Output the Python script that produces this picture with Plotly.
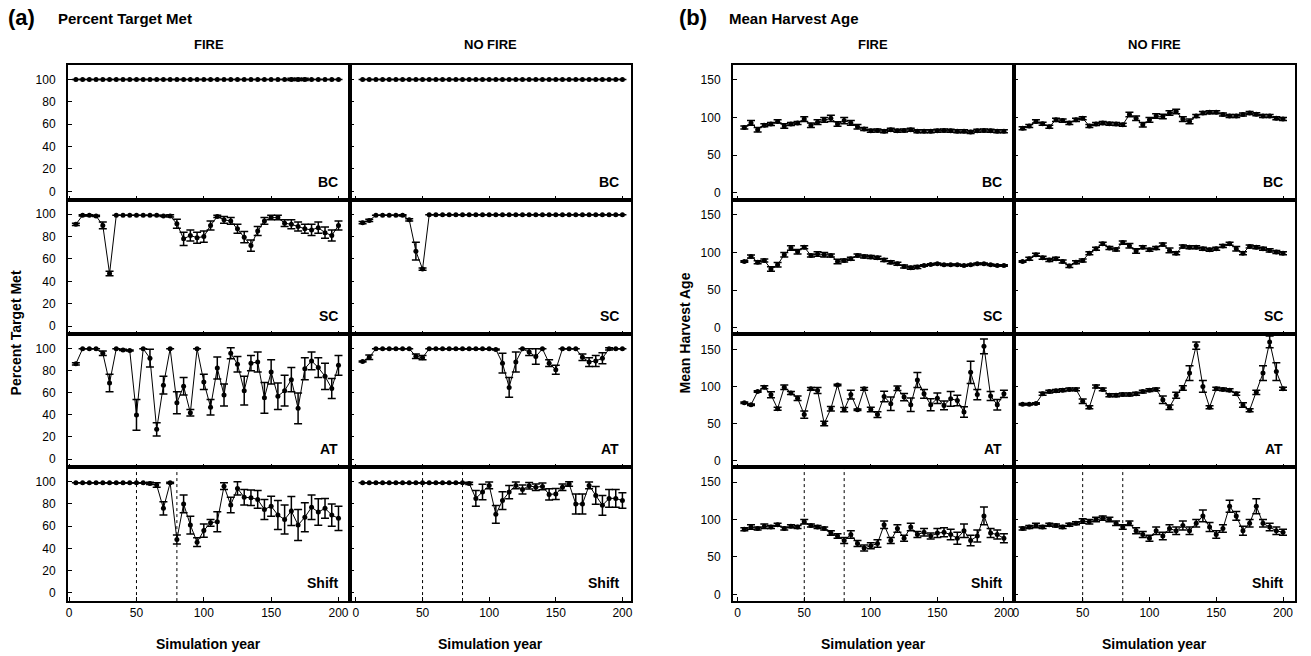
import plotly.graph_objects as go

W, H = 1311, 656
years = list(range(5, 205, 5))

# ---------------- (a) Percent Target Met ----------------
a_fire_bc = [100] * 40
a_fire_bc_err = [0] * 32 + [1, 1, 1] + [0] * 5
a_nofire_bc = [100] * 40
a_nofire_bc_err = [0] * 40

a_fire_sc = [91, 99, 99, 98.5, 90, 47, 99, 99, 99, 99, 99, 99, 99, 98.5, 98.5, 91.5, 78, 81, 79, 80,
             90, 98, 95, 94, 87, 79.5, 72, 85, 94, 97, 97, 92, 91, 89, 87, 86, 88, 83.5, 81, 90]
a_fire_sc_err = [1, 0.5, 0.5, 0.5, 3, 2, 0, 0, 0, 0, 0, 0, 0, 0.5, 1, 4, 6, 5, 5, 5,
                 4, 1, 3, 3, 4, 5, 5, 4, 3, 2, 2, 3, 4, 4, 4, 5, 5, 5, 5, 4]
a_nofire_sc = [92.5, 94.5, 99, 99, 99, 99, 99, 95, 67, 51] + [99.5] * 30
a_nofire_sc_err = [1, 1, 0, 0, 0, 0, 0.5, 1, 8, 1] + [0] * 30

a_fire_at = [86.4, 100, 100, 100, 96, 69, 100, 99, 98.5, 40, 100, 91.5, 27, 67, 100, 51, 66, 42, 100, 70,
             47, 82.5, 58, 96, 86, 62, 87, 88, 55.5, 79, 57, 62, 72, 46, 82, 89, 83, 75, 64, 85]
a_fire_at_err = [1, 0, 0, 0, 2, 8, 0, 0.5, 0.5, 14, 0, 8, 6, 8, 0, 10, 8, 3, 0, 7,
                 7, 10, 10, 5, 7, 13, 7, 9, 14, 11, 12, 14, 11, 14, 10, 8, 9, 12, 9, 9]
a_nofire_at = [88.5, 92.4, 100, 100, 100, 100, 100, 100, 93.3, 92] + [100] * 10 + \
              [99.4, 87, 65, 88, 100, 97, 93, 100, 87, 81, 100, 100, 100, 92.4, 88, 89, 91.5, 100, 100, 100]
a_nofire_at_err = [0.5, 2, 0, 0, 0, 0, 0, 0, 2, 2] + [0] * 10 + \
                  [0.5, 9, 9, 9, 0, 3, 7, 0, 3, 4, 0, 0, 0, 3, 4, 5, 5, 1, 0, 0]

a_fire_shift = [99] * 11 + [98.5, 97, 76, 99, 48, 80, 61, 45.6, 56, 63, 64, 96, 79, 94, 86, 85.6, 84, 75,
                            78, 70, 66, 73.6, 61, 68, 77, 72.7, 76, 70, 67]
a_fire_shift_err = [0] * 11 + [1, 2, 6, 0.5, 4, 8, 8, 4, 6, 3, 9, 3, 7, 6, 7, 7, 8, 9,
                               9, 13, 13, 13, 14, 13, 11, 12, 9, 10, 11]
a_nofire_shift = [99] * 16 + [98.5, 85, 90.7, 96.7, 70.6, 83, 90.7, 96.7, 93, 96.4, 95, 95.8, 88.6, 89,
                              95, 98, 80, 80, 96.7, 87.7, 78.7, 85, 85, 83]
a_nofire_shift_err = [0] * 16 + [1, 7, 7, 3, 8, 8, 6, 3, 4, 3, 3, 3, 5, 5, 3, 2, 9, 9, 3, 8, 9, 8, 8, 7]

# ---------------- (b) Mean Harvest Age ----------------
b_fire_bc = [87, 93, 84, 90, 91.5, 95, 89, 91.5, 93, 98, 90, 94, 97, 99, 91.5, 96, 93, 88, 85, 82.6,
             83, 82, 84, 82.6, 83, 84, 82, 82, 82, 82.6, 83, 82.6, 82, 82, 81, 82.6, 83, 82.6, 82, 82]
b_fire_bc_err = [2, 3, 3, 2, 2, 2, 3, 2, 2, 3, 3, 3, 3, 4, 3, 4, 3, 3, 2, 2,
                 2, 2, 2, 2, 2, 2, 2, 2, 2, 2, 2, 2, 2, 2, 2, 2, 2, 2, 2, 2]
b_nofire_bc = [86, 89, 95, 92, 88, 97, 96, 93, 97, 99, 89, 91.5, 93, 92, 91.5, 90.5, 104, 99, 90.5, 97,
               102, 101.5, 106, 108, 98, 95, 102, 106, 107, 107, 104, 102, 102, 104, 106, 104.5, 102, 102, 99, 98]
b_nofire_bc_err = [2] * 16 + [3, 3, 3, 3, 3, 3, 3, 3, 3, 3] + [2] * 14

b_fire_sc = [88, 94.7, 87, 89.4, 78, 83.6, 97, 105.8, 101, 107, 96, 98, 97, 96, 88, 89.4, 91.6, 96, 94.7, 93.8,
             93, 90, 87, 85, 81.4, 79.6, 80.5, 82.7, 84, 85, 83.6, 83.6, 83.6, 82.7, 83.6, 85, 85, 83.6, 82.7, 82.7]
b_fire_sc_err = [1, 2, 2, 2, 3, 3, 3, 3, 3, 2, 2, 3, 3, 2, 3, 2, 2, 2, 2, 2,
                 2, 2, 2, 2, 2, 2, 2, 1, 1, 1, 1, 1, 1, 1, 1, 1, 1, 1, 1, 1]
b_nofire_sc = [88, 91.6, 97, 93, 90, 91.6, 88, 82, 87, 89.4, 99, 105, 111.5, 105.8, 104, 113, 109, 101.8, 107, 103.5,
               106, 110.6, 102.7, 99, 108, 107, 107, 105, 103.5, 105, 108.4, 111.5, 105, 99, 108, 107, 105, 102.7, 100.4, 99]
b_nofire_sc_err = [1, 2, 2, 2, 2, 2, 2, 2, 2, 2, 2, 2, 2, 2, 2, 2, 3, 3, 2, 2,
                   2, 2, 3, 2, 2, 2, 2, 2, 2, 2, 2, 2, 3, 2, 2, 2, 2, 2, 2, 2]

b_fire_at = [78, 75.3, 93, 99, 88.7, 70, 99, 91, 84, 62, 96.7, 94.4, 50, 70, 102, 68.7, 89, 68.7, 96.7, 69,
             62, 86.4, 76.7, 97.6, 85.6, 75.3, 108.7, 90, 75.3, 84, 74.4, 83.3, 81, 65.6, 119, 89, 154, 87, 75.3, 90]
b_fire_at_err = [1, 1, 1, 2, 4, 2, 3, 2, 3, 5, 2, 4, 3, 3, 1, 3, 6, 1, 2, 3,
                 4, 7, 9, 3, 5, 9, 10, 6, 8, 7, 6, 10, 7, 7, 15, 7, 10, 6, 7, 5]
b_nofire_at = [76, 76, 77, 90, 93, 94, 95, 96, 96, 80, 72, 100, 96, 88, 88, 89, 89, 90, 93, 95,
               96, 82, 72, 88, 98, 118, 155, 100, 72, 97, 96, 95, 90, 75, 68, 92, 118, 160, 120, 97]
b_nofire_at_err = [1, 1, 1, 2, 2, 2, 2, 2, 2, 3, 2, 2, 2, 2, 2, 2, 2, 2, 2, 2,
                   2, 5, 3, 4, 3, 10, 5, 8, 2, 2, 2, 2, 2, 3, 2, 3, 10, 8, 12, 2]

b_fire_shift = [87, 90, 88, 91, 90, 93, 88, 91, 90, 97, 92, 90, 88, 82, 78, 72, 80, 68, 62, 65,
                68, 93, 72, 88, 75, 90, 80, 83, 78, 82, 83, 80, 75, 85, 72, 78, 105, 82, 80, 75]
b_fire_shift_err = [2, 3, 2, 3, 2, 2, 2, 2, 2, 3, 2, 2, 2, 3, 3, 4, 5, 4, 4, 4,
                    5, 5, 4, 5, 4, 5, 4, 5, 4, 6, 6, 7, 8, 9, 7, 8, 12, 6, 6, 6]
b_nofire_shift = [88, 90, 92, 90, 93, 92, 90, 93, 95, 98, 97, 100, 102, 100, 95, 90, 95, 85, 80, 75,
                  85, 78, 88, 85, 92, 85, 95, 105, 90, 80, 88, 118, 105, 85, 95, 118, 95, 90, 85, 83]
b_nofire_shift_err = [2, 2, 3, 2, 2, 2, 2, 2, 2, 3, 3, 3, 3, 3, 3, 3, 3, 4, 4, 4,
                      5, 5, 5, 5, 6, 5, 5, 8, 6, 5, 5, 8, 6, 6, 5, 10, 5, 5, 5, 4]

row_labels = ["BC", "SC", "AT", "Shift"]
col_labels = ["FIRE", "NO FIRE"]
x_ticks = [0, 50, 100, 150, 200]
a_y_ticks = [0, 20, 40, 60, 80, 100]
b_y_ticks = [0, 50, 100, 150]
shift_lines = [50, 80]

series = {
    ("a", 0): [(a_fire_bc, a_fire_bc_err), (a_fire_sc, a_fire_sc_err), (a_fire_at, a_fire_at_err), (a_fire_shift, a_fire_shift_err)],
    ("a", 1): [(a_nofire_bc, a_nofire_bc_err), (a_nofire_sc, a_nofire_sc_err), (a_nofire_at, a_nofire_at_err), (a_nofire_shift, a_nofire_shift_err)],
    ("b", 0): [(b_fire_bc, b_fire_bc_err), (b_fire_sc, b_fire_sc_err), (b_fire_at, b_fire_at_err), (b_fire_shift, b_fire_shift_err)],
    ("b", 1): [(b_nofire_bc, b_nofire_bc_err), (b_nofire_sc, b_nofire_sc_err), (b_nofire_at, b_nofire_at_err), (b_nofire_shift, b_nofire_shift_err)],
}

# panel geometry in pixels
col_px = {("a", 0): (66, 349), ("a", 1): (349, 631), ("b", 0): (733, 1015), ("b", 1): (1015, 1297)}
row_px = [(65, 200), (200, 335), (335, 468), (468, 602)]
x_rng = {("a", 0): [-1, 208.5], ("a", 1): [-4.5, 206.5], ("b", 0): [-3.7, 207.5], ("b", 1): [-1.5, 209]}
y_rng = {"a": [-7.5, 113], "b": [-9, 170]}

FONT = "Arial, Liberation Sans, sans-serif"
fig = go.Figure()
layout = {}
shapes = []
annotations = []


def note(text, px, py, size, xanchor="center", angle=0):
    annotations.append(dict(text=text, xref="paper", yref="paper", x=px / W, y=1 - py / H,
                            xanchor=xanchor, yanchor="middle", textangle=angle, showarrow=False,
                            font=dict(family=FONT, size=size, color="black")))


k = 0
for g in ["a", "b"]:
    for c in [0, 1]:
        x0, x1 = col_px[(g, c)]
        for r in range(4):
            k += 1
            y0, y1 = row_px[r]
            xa = "x" if k == 1 else f"x{k}"
            ya = "y" if k == 1 else f"y{k}"
            vals, errs = series[(g, c)][r]
            fig.add_trace(go.Scatter(
                x=years, y=vals, xaxis=xa, yaxis=ya, mode="lines+markers",
                line=dict(color="black", width=1),
                marker=dict(color="black", size=5),
                error_y=dict(type="data", array=errs, color="black", thickness=1.5, width=4),
                showlegend=False, hoverinfo="x+y",
            ))
            xkey = "xaxis" if k == 1 else f"xaxis{k}"
            ykey = "yaxis" if k == 1 else f"yaxis{k}"
            layout[xkey] = dict(
                domain=[x0 / W, x1 / W], range=x_rng[(g, c)], anchor=ya,
                tickvals=x_ticks, showticklabels=(r == 3), ticks="inside", ticklen=4,
                tickcolor="black", showline=True, mirror=True, linecolor="black", linewidth=1.5,
                showgrid=False, zeroline=False, tickfont=dict(family=FONT, size=12, color="black"),
            )
            layout[ykey] = dict(
                domain=[1 - y1 / H, 1 - y0 / H], range=y_rng[g], anchor=xa,
                tickvals=a_y_ticks if g == "a" else b_y_ticks, showticklabels=(c == 0),
                ticks="inside", ticklen=4, tickcolor="black", ticklabelstandoff=8,
                showline=True, mirror=True, linecolor="black", linewidth=1.5,
                showgrid=False, zeroline=False, tickfont=dict(family=FONT, size=12, color="black"),
            )
            annotations.append(dict(
                text=f"<b>{row_labels[r]}</b>", xref=f"{xa} domain", yref=f"{ya} domain",
                x=0.965, y=0.06, xanchor="right", yanchor="bottom", showarrow=False,
                font=dict(family=FONT, size=14, color="black"),
            ))
            if r == 3:
                for sx in shift_lines:
                    shapes.append(dict(type="line", xref=xa, yref=f"{ya} domain",
                                       x0=sx, x1=sx, y0=0, y1=1,
                                       line=dict(color="black", width=1, dash="dot")))
        cx = (x0 + x1) / 2
        note(f"<b>{col_labels[c]}</b>", cx, 45, 13)
        note("<b>Simulation year</b>", cx, 645, 14)

note("<b>(a)</b>", 4, 18, 22, xanchor="left")
note("<b>Percent Target Met</b>", 54, 19, 15, xanchor="left")
note("<b>(b)</b>", 677, 18, 22, xanchor="left")
note("<b>Mean Harvest Age</b>", 727, 19, 15, xanchor="left")
note("<b>Percent Target Met</b>", 15, 333, 14, angle=-90)
note("<b>Mean Harvest Age</b>", 686, 333, 14, angle=-90)

fig.update_layout(
    width=W, height=H, margin=dict(l=0, r=0, t=0, b=0),
    paper_bgcolor="white", plot_bgcolor="white",
    font=dict(family=FONT, color="black"),
    shapes=shapes, annotations=annotations, **layout,
)
fig.write_html("out.html", config={"displayModeBar": False},
               post_script="document.body.style.margin='0';")
